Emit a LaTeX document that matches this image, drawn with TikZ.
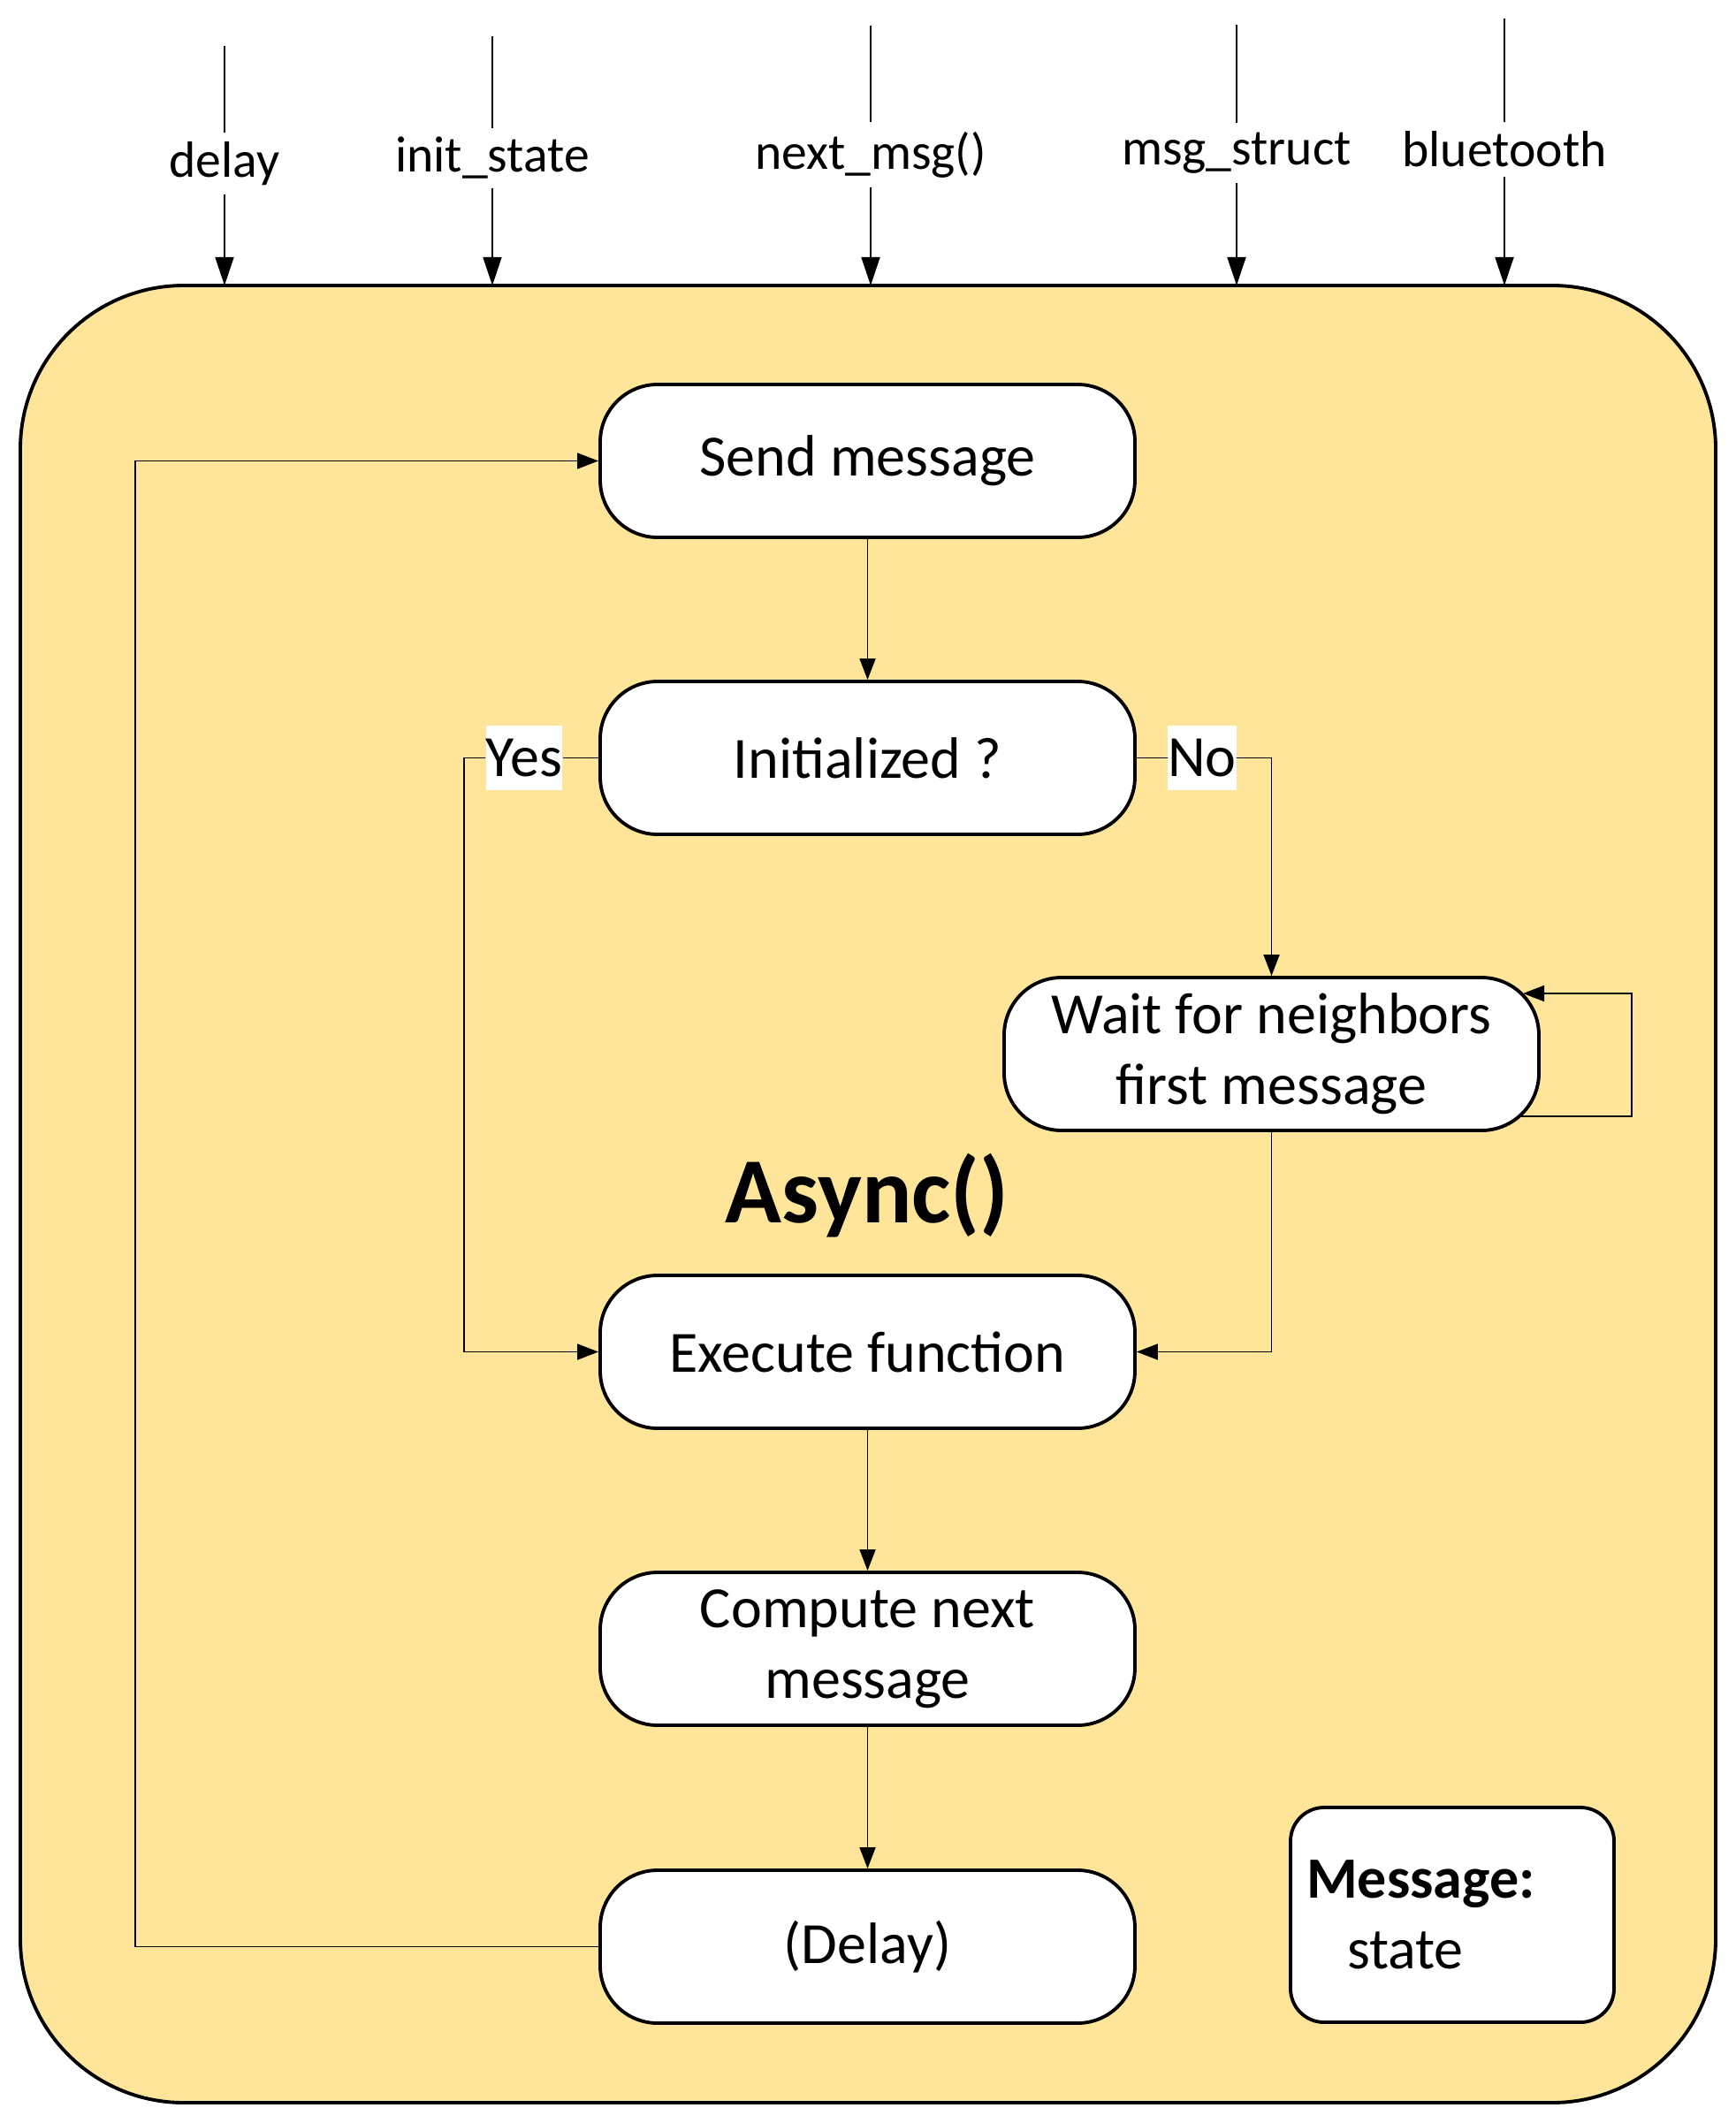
\documentclass[tikz,border=0pt]{standalone}
\usepackage{fontspec}
\setmainfont{Carlito}
\usetikzlibrary{arrows.meta}

\definecolor{asyncbg}{RGB}{255,229,153}

\tikzset{
  stepbox/.style={draw, line width=1.1pt, fill=white, rounded corners=0.65cm,
    minimum width=6.05cm, minimum height=1.73cm, inner sep=0pt, align=center,
    font=\fontsize{18.8}{22.7}\selectfont},
  arr/.style={-{Triangle[length=2.4mm,width=1.8mm]}, line width=0.5pt},
  toparr/.style={-{Triangle[length=3.2mm,width=2.1mm]}, line width=0.5pt},
  inlabel/.style={font=\fontsize{16.4}{19.7}\selectfont, inner sep=0.1cm},
  answer/.style={fill=white, inner xsep=0pt, minimum height=0.73cm,
    font=\fontsize{18.8}{22.7}\selectfont}
}

\begin{document}
\begin{tikzpicture}
\useasboundingbox (0,0) rectangle (19.64,-24.02);

\draw[line width=1.1pt, fill=asyncbg, rounded corners=1.85cm] (0.23,-3.23) rectangle (19.41,-23.79);
\coordinate (outertop) at (0,-3.23);

% inputs
\coordinate (delaytop) at (2.54,-0.52);
\coordinate (inittop) at (5.57,-0.41);
\coordinate (nexttop) at (9.85,-0.29);
\coordinate (structtop) at (13.99,-0.28);
\coordinate (bttop) at (17.02,-0.21);
\node[inlabel] (delay) at (2.54,-1.85) {delay};
\node[inlabel] (initstate) at (5.57,-1.79) {init\_state};
\node[inlabel] (nextmsg) at (9.85,-1.75) {next\_msg()};
\node[inlabel] (msgstruct) at (13.99,-1.73) {msg\_struct};
\node[inlabel] (bluetooth) at (17.02,-1.69) {bluetooth};
\draw[line width=0.5pt] (delaytop) -- (delay.north);
\draw[line width=0.5pt] (inittop) -- (initstate.north);
\draw[line width=0.5pt] (nexttop) -- (nextmsg.north);
\draw[line width=0.5pt] (structtop) -- (msgstruct.north);
\draw[line width=0.5pt] (bttop) -- (bluetooth.north);
\draw[toparr] (delay.south) -- (delay |- outertop);
\draw[toparr] (initstate.south) -- (initstate |- outertop);
\draw[toparr] (nextmsg.south) -- (nextmsg |- outertop);
\draw[toparr] (msgstruct.south) -- (msgstruct |- outertop);
\draw[toparr] (bluetooth.south) -- (bluetooth |- outertop);

% steps
\node[stepbox] (send) at (9.815,-5.215) {Send message};
\node[stepbox] (init) at (9.815,-8.575) {Initialized ?};
\node[stepbox] (wait) at (14.385,-11.925) {Wait for neighbors\\first message};
\node[stepbox] (exec) at (9.815,-15.295) {Execute function};
\node[stepbox] (compute) at (9.815,-18.655) {Compute next\\message};
\node[stepbox] (delaystep) at (9.815,-22.025) {(Delay)};
\node[font=\fontsize{30}{36}\selectfont\bfseries] (title) at (9.81,-13.53) {Async()};
\node[draw, line width=1.1pt, fill=white, rounded corners=0.38cm, minimum height=2.43cm,
  text width=3.30cm, inner xsep=0.18cm, align=left,
  font=\fontsize{18.8}{22.7}\selectfont] (msg) at (16.43,-21.665) {\textbf{Message:}\\\hspace*{0.46cm}state};

\node[answer] (yes) at (5.93,-8.575) {Yes};
\node[answer] (no) at (13.60,-8.575) {No};

\coordinate (yescorner) at (5.25,-8.575);
\coordinate (loopout) at (17.20,-12.63);
\coordinate (loopin) at (17.23,-11.24);
\coordinate (backcorner) at (1.53,-22.025);

\draw[arr] (send) -- (init);
\draw[line width=0.5pt] (init.west) -- (yes.east);
\draw[arr] (yes.west) -- (yescorner) |- (exec.west);
\draw[line width=0.5pt] (init.east) -- (no.west);
\draw[arr] (no.east) -| (wait.north);
\draw[arr] (loopout) -- ++(1.26,0) |- (loopin);
\draw[arr] (wait.south) |- (exec.east);
\draw[arr] (exec) -- (compute);
\draw[arr] (compute) -- (delaystep);
\draw[arr] (delaystep.west) -- (backcorner) |- (send.west);
\end{tikzpicture}
\end{document}
